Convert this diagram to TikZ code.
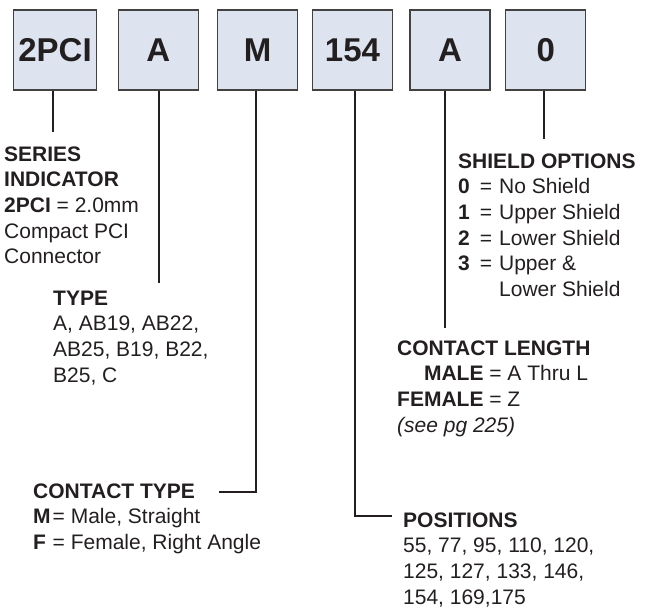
\documentclass[tikz,border=0pt]{standalone}
\usepackage{fontspec}
\setmainfont{Liberation Sans}
\definecolor{ink}{HTML}{231F20}
\definecolor{boxfill}{HTML}{DDE4F0}

\begin{document}
\begin{tikzpicture}[x = 1pt, y = -1pt, every node/.style = {text = ink, inner sep = 0pt},
    code/.style = {draw = ink!85, line width = 1.4pt, fill = boxfill, minimum width = 80pt, minimum height = 80pt, font = \fontsize{33}{36}\selectfont\bfseries},
    info/.style = {anchor = north west, font = \fontsize{21}{25.7}\selectfont},
    lead/.style = {draw = ink, line width = 2.6pt}]
    \useasboundingbox (0,0) rectangle (652,610);
    % part number boxes
    \node[code, minimum width = 83pt] (series) at (55,50) {2PCI};
    \node[code] (type) at (158.3,50) {A};
    \node[code] (ctype) at (257.5,50) {M};
    \node[code] (posn) at (352.5,50) {154};
    \node[code] (clength) at (450,50) {A};
    \node[code] (shield) at (545.7,50) {0};
    % descriptions
    \node[info] (seriesTxt) at (4,143) {\begin{tabular}{@{}l@{}}
        \textbf{SERIES}\\
        \textbf{INDICATOR}\\
        \textbf{2PCI} = 2.0mm\\
        Compact PCI\\
        Connector
    \end{tabular}};
    \node[info] (typeTxt) at (53,287) {\begin{tabular}{@{}l@{}}
        \textbf{TYPE}\\
        A, AB19, AB22,\\
        AB25, B19, B22,\\
        B25, C
    \end{tabular}};
    \node[info] (ctypeTxt) at (33,480) {\begin{tabular}{@{}l@{\hspace{2pt}}l@{}}
        \multicolumn{2}{@{}l@{}}{\textbf{CONTACT TYPE}}\\
        \textbf{M} & = Male, Straight\\
        \textbf{F} & = Female, Right Angle
    \end{tabular}};
    \node[info] (posnTxt) at (403,509) {\begin{tabular}{@{}l@{}}
        \textbf{POSITIONS}\\
        55, 77, 95, 110, 120,\\
        125, 127, 133, 146,\\
        154, 169,175
    \end{tabular}};
    \node[info] (clengthTxt) at (397,337) {\begin{tabular}{@{}r@{ = }l@{}}
        \multicolumn{2}{@{}l@{}}{\textbf{CONTACT LENGTH}}\\
        \textbf{MALE} & A Thru L\\
        \textbf{FEMALE} & Z\\
        \multicolumn{2}{@{}l@{}}{\itshape (see pg 225)}
    \end{tabular}};
    \node[info] (shieldTxt) at (458,150) {\begin{tabular}{@{}l@{\hspace{10pt}}l@{\hspace{7pt}}l@{}}
        \multicolumn{3}{@{}l@{}}{\textbf{SHIELD OPTIONS}}\\
        \textbf{0} & = & No Shield\\
        \textbf{1} & = & Upper Shield\\
        \textbf{2} & = & Lower Shield\\
        \textbf{3} & = & Upper \&\\
        & & Lower Shield
    \end{tabular}};
    % leader lines
    \coordinate (seriesEnd) at (53,132);
    \coordinate (typeEnd) at (159,283);
    \coordinate (ctypeEnd) at (219,492);
    \coordinate (posnEnd) at (392,516);
    \coordinate (clengthEnd) at (445,328);
    \coordinate (shieldEnd) at (544,139);
    \draw[lead] (series.south -| seriesEnd) -- (seriesEnd);
    \draw[lead] (type.south -| typeEnd) -- (typeEnd);
    \draw[lead] ([xshift = -1.5pt]ctype.south) |- (ctypeEnd);
    \draw[lead] ([xshift = 2.5pt]posn.south) |- (posnEnd);
    \draw[lead] (clength.south -| clengthEnd) -- (clengthEnd);
    \draw[lead] (shield.south -| shieldEnd) -- (shieldEnd);
\end{tikzpicture}
\end{document}
